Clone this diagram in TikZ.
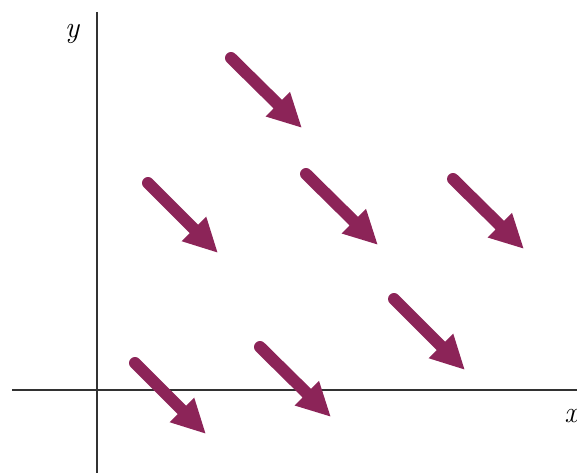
\documentclass[tikz,border=0pt]{standalone}
\usetikzlibrary{arrows.meta}
\definecolor{vecc}{RGB}{140,36,88}
\definecolor{axisc}{RGB}{50,50,50}
\tikzset{
  vec/.style={draw=vecc, line width=12pt, line cap=round, -{Triangle[length=34pt,width=32pt]}},
  axisline/.style={draw=axisc, line width=1.8pt},
  axislabel/.style={font=\fontsize{30}{34}\selectfont\itshape, inner sep=0pt}
}
\begin{document}
\begin{tikzpicture}[x=1pt,y=-1pt]
\useasboundingbox (0,0) rectangle (577,473);
\draw[axisline] (12,390) -- (577,390);
\draw[axisline] (97,12) -- (97,473);
\node[axislabel] (ylab) at (72,34) {y};
\node[axislabel] (xlab) at (571,416) {x};
\draw[vec] (231,58) -- (302,128);
\draw[vec] (148,183) -- (218,253);
\draw[vec] (306,174) -- (378,245);
\draw[vec] (453,179) -- (524,249);
\draw[vec] (394,299) -- (465,370);
\draw[vec] (260,347) -- (331,417);
\draw[vec] (135,363) -- (206,434);
\end{tikzpicture}
\end{document}
